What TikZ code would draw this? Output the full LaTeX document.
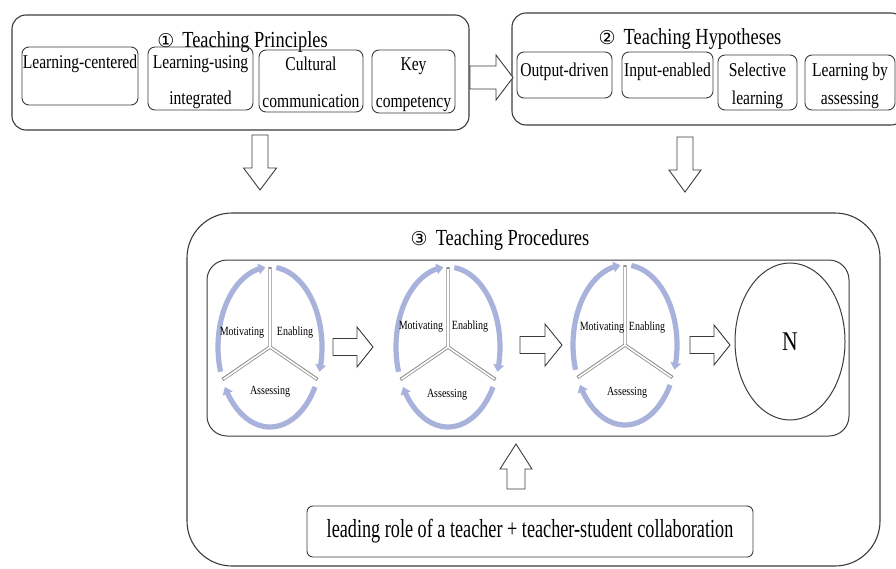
\documentclass[tikz,border=0pt]{standalone}
\usepackage{fontspec}
\setmainfont{Liberation Serif}[FakeStretch=0.8]
\newfontfamily\condB{Liberation Serif}[FakeStretch=0.7]
\newfontfamily\symf{DejaVu Sans}
\usetikzlibrary{arrows.meta,bending,shapes.geometric,calc}
\definecolor{ringblue}{RGB}{168,178,218}
\definecolor{boxline}{RGB}{60,60,60}
\definecolor{leggray}{RGB}{140,140,140}
\newcommand\boxtxt[5]{\begin{minipage}[t][#2pt][t]{#1pt}\centering\fontsize{19.5}{#4}\selectfont\rule{0pt}{#3pt}#5\end{minipage}}
\newcommand\circnum[1]{{\symf\fontsize{19}{19}\selectfont #1}\hspace{8pt}}
\tikzset{pics/blockarrow/.style n args={4}{code={%
  \draw[barrow] (0,-#3/2) -- ({#1-#2},-#3/2) -- ({#1-#2},-#4/2) -- (#1,0)
     -- ({#1-#2},#4/2) -- ({#1-#2},#3/2) -- (0,#3/2) -- cycle;}}}
\begin{document}
\begin{tikzpicture}[x=1pt,y=-1pt,
  bigbox/.style={draw=boxline,line width=1.1pt,rounded corners=14pt,inner sep=0pt,rectangle},
  ibox/.style={draw=boxline,line width=0.9pt,rounded corners=7pt,inner sep=0pt,rectangle},
  ttl/.style={anchor=base,inner sep=0pt,font=\fontsize{23}{23}\selectfont},
  lab/.style={inner sep=0pt,font=\fontsize{12.5}{12.5}\selectfont},
  ring/.style={draw=ringblue,line width=5.2pt,-{Triangle[length=7pt,width=10.5pt]}},
  legout/.style={draw=leggray,line width=3.4pt,line join=miter},
  legin/.style={draw=white,line width=1.6pt,line join=miter},
  barrow/.style={draw=boxline,line width=0.9pt,fill=white,line join=miter}]
\useasboundingbox (0,0) rectangle (896,568);
\fill[white] (0,0) rectangle (896,568);

% ---- Box 1: Teaching Principles
\node[bigbox,minimum width=457pt,minimum height=115pt] (b1) at (240.5,72.5) {};
\node[ttl] (t1) at (242.5,47) {\circnum{①}Teaching Principles};
\node[ibox] (p1) at (80,76) {\boxtxt{116}{58}{21}{36}{Learning-centered}};
\node[ibox] (p2) at (200.5,78.5) {\boxtxt{105}{63}{21}{36}{Learning-using\\integrated}};
\node[ibox] (p3) at (311,81) {\boxtxt{104}{62}{20}{37}{Cultural\\communication}};
\node[ibox] (p4) at (413.5,81.5) {\boxtxt{83}{63}{20}{37}{Key\\competency}};

% ---- Box 2: Teaching Hypotheses
\node[bigbox,minimum width=393pt,minimum height=112pt] (b2) at (708.5,69) {};
\node[ttl] (t2) at (690,44) {\circnum{②}Teaching Hypotheses};
\node[ibox] (q1) at (564.5,75) {\boxtxt{95}{46}{24}{28}{Output-driven}};
\node[ibox] (q2) at (667.5,75) {\boxtxt{91}{46}{24}{28}{Input-enabled}};
\node[ibox] (q3) at (757.5,82.5) {\boxtxt{79}{55}{21}{28}{Selective\\learning}};
\node[ibox] (q4) at (850,82.5) {\boxtxt{90}{55}{21}{28}{Learning by\\assessing}};

% ---- arrows between top boxes
\pic at (470,77.5) {blockarrow={43}{17}{23}{45}};
\pic[rotate=-90] at (260,135) {blockarrow={55}{22}{16}{33}};
\pic[rotate=-90] at (685,137) {blockarrow={55}{22}{16}{32}};

% ---- Box 3: Teaching Procedures
\node[bigbox,rounded corners=45pt,minimum width=693pt,minimum height=353pt] (b3) at (533.5,389.5) {};
\node[ttl] (t3) at (500,245) {\circnum{③}Teaching Procedures};
\node[bigbox,rounded corners=20pt,line width=1pt,minimum width=642pt,minimum height=176pt] (inner) at (528,348) {};

% ---- cycles
\coordinate (c1) at (270,347);
\coordinate (c2) at (448,347);
\coordinate (c3) at (625,345);
\foreach \c in {c1,c2,c3}{
  \draw[ring] (\c) ++(162:52 and 80) arc[start angle=162,end angle=265,x radius=52,y radius=80];
  \draw[ring] (\c) ++(277:52 and 80) arc[start angle=277,end angle=378,x radius=52,y radius=80];
  \draw[ring] (\c) ++(30:52 and 80) arc[start angle=30,end angle=150,x radius=52,y radius=80];
  \draw[legout] ($(\c)+(270:52 and 80)$) -- (\c) -- ($(\c)+(156:52 and 80)$) (\c) -- ($(\c)+(24:52 and 80)$);
  \draw[legin] ($(\c)+(270:52 and 78)$) -- (\c) -- ($(\c)+(156:51 and 79)$) (\c) -- ($(\c)+(24:51 and 79)$);
}
\node[lab] (m1) at (242,333) {Motivating};
\node[lab] (e1) at (295,333) {Enabling};
\node[lab] (a1) at (270,392) {Assessing};
\node[lab] (m2) at (421,327) {Motivating};
\node[lab] (e2) at (470,327) {Enabling};
\node[lab] (a2) at (447,395) {Assessing};
\node[lab] (m3) at (602,328) {Motivating};
\node[lab] (e3) at (647,328) {Enabling};
\node[lab] (a3) at (627,393) {Assessing};

\pic at (333,347) {blockarrow={40}{16}{17}{40}};
\pic at (520,345) {blockarrow={42}{17}{17}{42}};
\pic at (690,345) {blockarrow={40}{16}{17}{40}};

\node[draw=boxline,line width=1pt,ellipse,minimum width=110pt,minimum height=157pt,inner sep=0pt,
      font=\fontsize{27}{27}\selectfont] (nn) at (790,341.5) {N};

% ---- bottom
\pic[rotate=90] at (516,489) {blockarrow={45}{25}{18}{32}};
\node[ibox,rounded corners=6pt,minimum width=446pt,minimum height=51pt,font=\condB\fontsize{26}{26}\selectfont]
  (lead) at (530,531.5) {\raisebox{-4pt}{leading role of a teacher + teacher-student collaboration}};
\end{tikzpicture}
\end{document}
